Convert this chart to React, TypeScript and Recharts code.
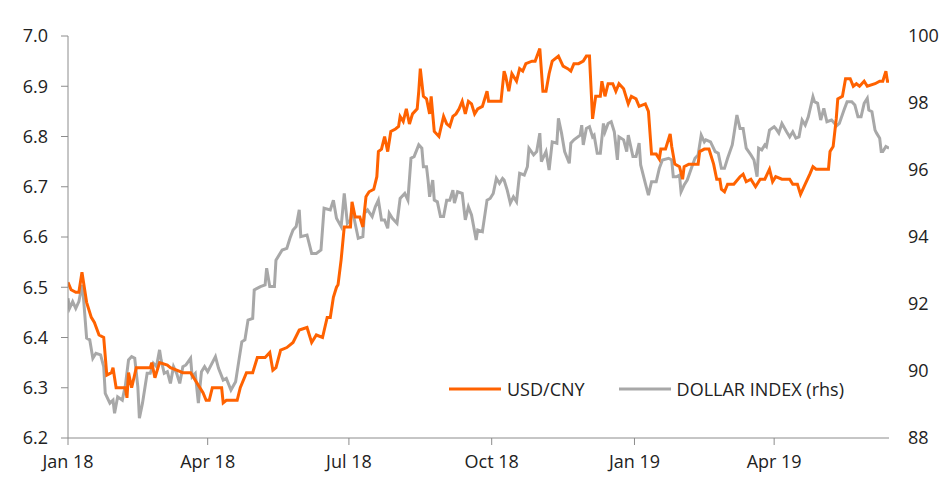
import React from "react"
import { LineChart, Line, XAxis, YAxis } from "recharts"

// day offset from 1 Jan 2018, value
const usdCny: [number, number][] = [
  [0, 6.51], [2, 6.495], [5, 6.49], [7, 6.49], [9, 6.53], [10, 6.51], [12, 6.47], [15, 6.44],
  [17, 6.43], [20, 6.405], [23, 6.4], [25, 6.325], [28, 6.33], [29, 6.34], [31, 6.3], [33, 6.3],
  [37, 6.3], [38, 6.28], [39, 6.33], [41, 6.3], [44, 6.34], [53, 6.34], [54, 6.35], [56, 6.32],
  [59, 6.35], [64, 6.345], [66, 6.34], [70, 6.335], [74, 6.33], [79, 6.33], [83, 6.31], [87, 6.29],
  [89, 6.275], [91, 6.275], [93, 6.3], [99, 6.3], [100, 6.27], [102, 6.275], [109, 6.275], [111, 6.3],
  [115, 6.33], [119, 6.33], [122, 6.36], [127, 6.36], [130, 6.37], [132, 6.335], [134, 6.34], [137, 6.375],
  [141, 6.38], [145, 6.39], [149, 6.415], [154, 6.42], [157, 6.39], [160, 6.405], [164, 6.4], [167, 6.44],
  [169, 6.44], [171, 6.48], [173, 6.5], [174, 6.505], [176, 6.555], [178, 6.62], [182, 6.62], [183, 6.67],
  [185, 6.64], [188, 6.64], [190, 6.62], [192, 6.68], [194, 6.69], [197, 6.695], [199, 6.72], [200, 6.77],
  [202, 6.775], [204, 6.8], [206, 6.77], [208, 6.81], [211, 6.815], [213, 6.82], [214, 6.84], [216, 6.83],
  [218, 6.855], [220, 6.825], [222, 6.845], [225, 6.855], [226, 6.89], [227, 6.935], [229, 6.88], [231, 6.875],
  [233, 6.845], [234, 6.88], [236, 6.81], [239, 6.8], [242, 6.84], [244, 6.825], [246, 6.82], [248, 6.84],
  [250, 6.845], [252, 6.855], [254, 6.87], [256, 6.845], [258, 6.87], [260, 6.865], [262, 6.845], [264, 6.855],
  [267, 6.86], [270, 6.89], [271, 6.87], [275, 6.87], [279, 6.87], [281, 6.93], [282, 6.92], [284, 6.89],
  [286, 6.925], [289, 6.91], [291, 6.935], [293, 6.93], [295, 6.945], [299, 6.95], [301, 6.95], [304, 6.975],
  [306, 6.89], [308, 6.89], [310, 6.925], [312, 6.95], [316, 6.96], [319, 6.94], [322, 6.935], [324, 6.93],
  [326, 6.945], [329, 6.945], [332, 6.95], [334, 6.96], [336, 6.96], [338, 6.835], [340, 6.88], [343, 6.88],
  [344, 6.91], [346, 6.88], [348, 6.905], [351, 6.905], [353, 6.89], [355, 6.905], [358, 6.895], [361, 6.865],
  [363, 6.88], [366, 6.875], [368, 6.86], [372, 6.865], [374, 6.85], [376, 6.765], [379, 6.765], [381, 6.755],
  [382, 6.775], [385, 6.775], [388, 6.805], [389, 6.78], [391, 6.745], [394, 6.74], [396, 6.715], [397, 6.74],
  [400, 6.745], [406, 6.745], [407, 6.77], [410, 6.775], [413, 6.775], [416, 6.745], [418, 6.715], [420, 6.715],
  [421, 6.695], [423, 6.69], [425, 6.705], [429, 6.705], [433, 6.72], [435, 6.725], [437, 6.71], [440, 6.715],
  [443, 6.7], [446, 6.715], [449, 6.715], [452, 6.735], [454, 6.71], [456, 6.72], [460, 6.715], [465, 6.715],
  [467, 6.705], [470, 6.705], [472, 6.685], [475, 6.705], [478, 6.725], [480, 6.74], [482, 6.735], [485, 6.735],
  [490, 6.735], [491, 6.77], [493, 6.78], [495, 6.835], [496, 6.875], [499, 6.88], [501, 6.915], [504, 6.915],
  [506, 6.9], [508, 6.905], [510, 6.9], [513, 6.91], [515, 6.9], [520, 6.905], [523, 6.91], [525, 6.91],
  [527, 6.93], [528, 6.91], [529, 6.91],
]

const dollarIndex: [number, number][] = [
  [0, 92.17], [1, 91.87], [3, 92.07], [5, 91.87], [7, 92.07], [9, 92.57], [10, 92.17], [12, 90.98],
  [14, 90.93], [16, 90.38], [18, 90.53], [21, 90.48], [23, 90.13], [24, 89.33], [27, 89.04], [29, 89.13],
  [30, 88.74], [32, 89.23], [35, 89.13], [37, 89.58], [39, 90.33], [41, 90.43], [43, 90.38], [45, 89.53],
  [46, 88.59], [48, 89.04], [51, 89.93], [53, 89.93], [55, 90.23], [57, 90.13], [59, 90.63], [60, 90.33],
  [62, 89.93], [64, 89.98], [66, 89.63], [68, 90.13], [70, 89.93], [72, 89.63], [74, 90.13], [76, 90.18],
  [79, 90.38], [80, 89.83], [82, 89.93], [84, 89.04], [86, 89.98], [88, 90.13], [90, 89.98], [95, 90.43],
  [97, 90.08], [100, 89.73], [102, 89.78], [105, 89.43], [108, 89.68], [110, 90.28], [112, 90.87], [114, 90.93],
  [116, 91.52], [119, 91.57], [120, 92.42], [124, 92.52], [127, 92.57], [128, 93.07], [130, 92.52], [133, 92.52],
  [134, 93.31], [138, 93.61], [141, 93.66], [143, 93.96], [145, 94.21], [147, 94.31], [149, 94.81], [150, 94.01],
  [154, 94.06], [157, 93.51], [160, 93.51], [163, 93.61], [165, 94.86], [169, 94.81], [171, 95.1], [173, 94.56],
  [176, 94.31], [178, 95.3], [180, 94.41], [182, 94.51], [183, 94.86], [185, 94.41], [187, 93.96], [190, 94.01],
  [191, 94.71], [193, 94.81], [196, 94.61], [198, 94.9], [200, 95.1], [202, 94.51], [204, 94.51], [206, 94.26],
  [207, 94.71], [209, 94.56], [212, 94.41], [214, 95.15], [217, 95.3], [219, 95.1], [221, 96.35], [223, 96.4],
  [226, 96.75], [228, 96.65], [229, 96.1], [231, 96.1], [232, 95.7], [233, 95.2], [235, 95.7], [236, 95.1],
  [238, 95.05], [240, 94.61], [242, 94.61], [244, 95.1], [246, 95.1], [248, 95.4], [249, 95.01], [251, 95.35],
  [254, 95.3], [256, 94.51], [258, 94.9], [260, 94.66], [263, 93.91], [264, 94.21], [267, 94.16], [270, 95.1],
  [272, 95.15], [274, 95.3], [276, 95.75], [278, 95.6], [280, 95.75], [281, 95.7], [283, 95.4], [285, 95.01],
  [287, 95.2], [289, 95.05], [291, 95.9], [294, 95.85], [296, 96.1], [297, 96.65], [300, 96.45], [302, 96.55],
  [304, 97.1], [305, 96.25], [308, 96.55], [310, 96.0], [312, 96.84], [315, 96.8], [316, 97.54], [318, 97.1],
  [320, 96.55], [323, 96.2], [324, 96.8], [326, 96.9], [330, 97.04], [331, 97.34], [332, 96.75], [334, 97.24],
  [336, 97.29], [338, 96.99], [339, 97.04], [341, 96.5], [343, 96.5], [345, 97.39], [346, 97.14], [348, 97.39],
  [350, 97.44], [352, 97.14], [354, 96.3], [355, 96.99], [358, 96.9], [360, 96.55], [361, 97.04], [364, 96.4],
  [366, 96.4], [368, 96.8], [369, 96.15], [372, 95.6], [374, 95.25], [376, 95.65], [379, 95.65], [381, 96.05],
  [383, 96.3], [387, 96.35], [389, 96.3], [390, 95.8], [392, 95.8], [394, 95.85], [395, 95.35], [397, 95.55],
  [399, 95.7], [402, 96.1], [404, 96.35], [406, 96.45], [408, 97.04], [410, 96.84], [411, 96.9], [414, 96.84],
  [417, 96.55], [419, 96.5], [421, 96.05], [423, 96.05], [425, 96.35], [428, 96.75], [429, 97.04], [431, 97.64],
  [433, 97.24], [435, 97.24], [437, 96.65], [440, 96.45], [442, 96.3], [444, 95.8], [445, 96.65], [447, 96.6],
  [449, 96.75], [450, 96.7], [452, 97.19], [455, 97.29], [456, 97.24], [458, 97.1], [460, 97.39], [463, 97.14],
  [465, 96.99], [467, 97.14], [469, 96.95], [471, 96.99], [473, 97.49], [475, 97.34], [477, 97.59], [480, 98.19],
  [481, 98.04], [483, 97.99], [485, 97.49], [487, 97.84], [489, 97.44], [492, 97.49], [494, 97.39], [495, 97.31],
  [497, 97.39], [500, 97.79], [502, 98.04], [505, 98.04], [507, 97.94], [509, 97.59], [511, 97.59], [513, 97.99],
  [515, 98.14], [516, 97.79], [518, 97.74], [520, 97.19], [521, 97.1], [523, 96.95], [524, 96.55], [525, 96.55],
  [527, 96.7], [529, 96.65],
]

const tickDays = [0, 90, 181, 273, 365, 455]
const tickLabels = ["Jan 18", "Apr 18", "Jul 18", "Oct 18", "Jan 19", "Apr 19"]
const leftTicks = [6.2, 6.3, 6.4, 6.5, 6.6, 6.7, 6.8, 6.9, 7.0]
const rightTicks = [88, 90, 92, 94, 96, 98, 100]

const ORANGE = "#ff6200"
const GREY = "#a8a8a8"
const AXIS = "#8c8c8c"
const TEXT = "#222"
const FONT = "'Open Sans', sans-serif"

const cnyData = usdCny.map(([day, v]) => ({ day, v }))
const dxyData = dollarIndex.map(([day, v]) => ({ day, v }))

function LegendItem({ color, label }: { color: string; label: string }) {
  return (
    <div style={{ display: "flex", alignItems: "center", marginRight: 34 }}>
      <svg width={52} height={4} style={{ marginRight: 6 }}>
        <line x1={0} y1={2} x2={52} y2={2} stroke={color} strokeWidth={3} />
      </svg>
      <span style={{ fontSize: 18, color: TEXT }}>{label}</span>
    </div>
  )
}

export default function App() {
  const tick = { fill: TEXT, fontSize: 18, fontFamily: FONT }
  return (
    <div style={{ position: "absolute", left: 0, top: 0, width: 952, height: 491, background: "#fff" }}>
      <LineChart width={952} height={491} margin={{ top: 36, right: 0, bottom: 23, left: 0 }}>
        <XAxis
          xAxisId="x"
          type="number"
          dataKey="day"
          domain={[0, 529]}
          ticks={tickDays}
          tickFormatter={(d: number) => tickLabels[tickDays.indexOf(d)]}
          allowDataOverflow
          stroke={AXIS}
          tick={tick}
          tickSize={7}
          tickMargin={10}
          height={30}
        />
        <YAxis
          yAxisId="left"
          domain={[6.2, 7.0]}
          ticks={leftTicks}
          tickFormatter={(v: number) => v.toFixed(1)}
          stroke={AXIS}
          tick={tick}
          tickSize={7}
          tickMargin={13}
          width={68}
          allowDataOverflow
        />
        <YAxis
          yAxisId="right"
          orientation="right"
          domain={[88, 100]}
          ticks={rightTicks}
          axisLine={false}
          tickLine={false}
          tick={{ ...tick, textAnchor: "start" }}
          tickSize={6}
          tickMargin={13}
          width={63}
          allowDataOverflow
        />
        <Line
          xAxisId="x"
          yAxisId="right"
          data={dxyData}
          dataKey="v"
          name="DOLLAR INDEX (rhs)"
          stroke={GREY}
          strokeWidth={3}
          dot={false}
          isAnimationActive={false}
        />
        <Line
          xAxisId="x"
          yAxisId="left"
          data={cnyData}
          dataKey="v"
          name="USD/CNY"
          stroke={ORANGE}
          strokeWidth={3}
          dot={false}
          isAnimationActive={false}
        />
      </LineChart>
      <div style={{ position: "absolute", left: 449, top: 377, display: "flex", fontFamily: FONT }}>
        <LegendItem color={ORANGE} label="USD/CNY" />
        <LegendItem color={GREY} label="DOLLAR INDEX (rhs)" />
      </div>
    </div>
  )
}
